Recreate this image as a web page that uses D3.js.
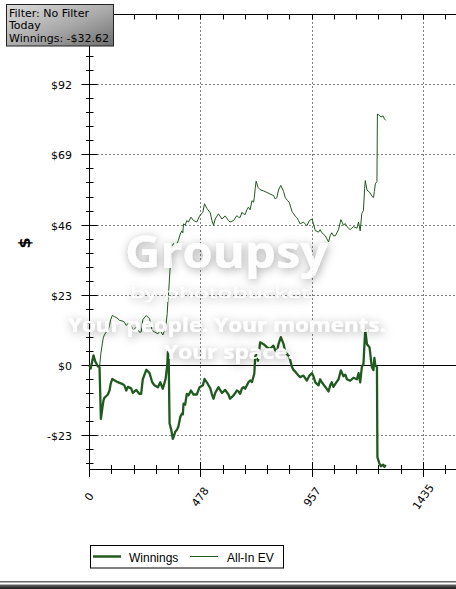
<!DOCTYPE html>
<html><head><meta charset="utf-8">
<script src="https://cdn.jsdelivr.net/npm/d3@7/dist/d3.min.js"></script>
<style>
html,body{margin:0;padding:0;background:#fff;overflow:hidden;}
svg{display:block;}
</style></head><body>
<svg id="c" width="456" height="589"></svg>
<script>
// ---------------- data ----------------
const hands = [0,5,12,17,24,36,43,49,55,58,60,64,72,79,86,91,98,107,118,129,140,150,158,165,179,186,201,215,222,229,244,258,269,279,294,304,315,327,334,337,340,344,351,358,361,368,376,382,390,397,401,404,411,418,425,436,447,461,473,487,494,504,519,526,533,540,554,569,583,597,604,619,633,640,647,655,662,669,676,683,690,698,705,708,712,716,724,733,748,762,776,790,798,805,812,822,834,841,851,858,870,877,884,891,898,905,919,934,945,956,962,970,984,991,998,1013,1027,1034,1041,1048,1056,1070,1080,1091,1099,1106,1120,1134,1149,1156,1163,1170,1177,1182,1185,1192,1203,1213,1220,1224,1228,1235,1237,1245,1252,1261,1267,1273];
const winnings = [0,-1,1.5,3.3,1.5,-0.3,-0.5,-17.5,-14,-12.5,-11.5,-10.6,-10,-9.5,-8.2,-6,-4.4,-4.8,-5.3,-5.7,-6,-6.5,-8.2,-7,-7.5,-9,-8,-9.3,-9.3,-4.5,-1.4,-2.5,-5.4,-6.5,-7.1,-5.5,-7.6,-4.4,0,4.5,3,-19,-21,-24,-23.5,-21.8,-21,-20,-16.9,-15.8,-16,-12.5,-12.8,-9.3,-9.8,-8.2,-9.5,-9.5,-7.1,-6.5,-4.4,-5.5,-7.5,-9.5,-10.9,-9,-7.1,-9,-8,-9.5,-10.9,-9.8,-8.2,-8.5,-9.3,-7.5,-7.1,-7.6,-6.5,-5.5,-4.9,-5.4,-3.5,-2.7,2.7,3.8,1.6,7.6,7,6,5.5,6.5,5,4.4,7,9.3,7,4.4,3.5,3,-0.5,-1.5,-2,-2.7,-3.3,-3.8,-3.3,-4.9,-3.3,-2.5,-3.5,-5.5,-6.5,-4.5,-5.5,-7,-8.5,-6.5,-5.5,-7,-6,-4.5,-1.6,-3.5,-3,-4.5,-5,-4,-4.5,-2.5,-5.5,-0.5,0.5,8,11.5,7,6,-0.5,-1.5,2.5,0,-0.5,-30,-32,-33,-32.5,-33.2,-32.62];
const allInEV = [0,-1,1.5,3.3,1.5,-0.3,-0.5,4,7.1,8.5,9.3,10,11,11.5,13.1,15,16.4,16,15.6,14.8,14.6,14.2,13.1,13.8,13.2,11.5,12.5,10.9,11,15,16.4,15.3,11.5,11,10.4,11.5,10,12.5,17,21.5,24,29,37.7,39.5,40,38.5,40,41,43.1,44.1,43.5,46.4,46,47.5,47,48.6,47.5,47,49,50.2,53,51.5,50,47.5,45.9,48,49.7,48,49,47.5,47,47.5,49.1,48.6,48.5,50.2,49.6,49.5,51,51.9,51,54,53.5,55,58,60.4,58.4,57.6,57.2,56.7,56.2,55.7,54.6,55,57.5,59,57,55,54,53.5,50.5,49.7,48.9,48.4,47.5,46.4,47,45.8,47.5,48,46.5,44.2,43.7,44.5,43.5,42.5,40.5,42.5,43.5,42.5,42.5,44.5,47.8,46,46.5,45.5,44.5,45.5,45,47,44.1,49.8,50.8,58,60.6,57.5,56.8,55.5,55,57,59.5,60.3,82.4,82,81.4,81.8,80.8,80.3];
const seriesNames = ["Winnings", "All-In EV"];
const xTickValues = [0, 478.33, 956.67, 1435];
const xTickLabels = ["0", "478", "957", "1435"];
const yTickValues = [-23, 0, 23, 46, 69, 92];
const yTickLabels = ["-$23", "$0", "$23", "$46", "$69", "$92"];
const yTitle = "$";
const infoLines = ["Filter: No Filter", "Today", "Winnings: -$32.62"];
const watermark = ["Groupsy", "by photobucket", "Your people. Your moments.", "Your space."];

// ---------------- drawing ----------------
const svg = d3.select("#c");
const W = 456, H = 589;
const x = d3.scaleLinear().domain([0, 1578.5]).range([89.5, 456.9]);
const y = d3.scaleLinear().domain([-34.07, 115]).range([469.5, 14.5]);
const cr = v => Math.round(v - 0.5) + 0.5;
const X0 = x(0), XR = W, YT = y(115), YB = y.range()[0];
const green = "#1f5a1f";

const defs = svg.append("defs");
const g1 = defs.append("linearGradient").attr("id","boxg").attr("x1",0).attr("y1",0).attr("x2",1).attr("y2",1);
g1.append("stop").attr("offset","0%").attr("stop-color","#dcdcdc");
g1.append("stop").attr("offset","55%").attr("stop-color","#a8a8a8");
g1.append("stop").attr("offset","100%").attr("stop-color","#6e6e6e");
const g2 = defs.append("linearGradient").attr("id","frameg").attr("x1",0).attr("y1",0).attr("x2",0).attr("y2",1);
g2.append("stop").attr("offset","0%").attr("stop-color","#6a6a6a");
g2.append("stop").attr("offset","100%").attr("stop-color","#1a1a1a");
const f = defs.append("filter").attr("id","wm").attr("x","-20%").attr("y","-50%").attr("width","140%").attr("height","200%");
f.append("feGaussianBlur").attr("in","SourceAlpha").attr("stdDeviation",5).attr("result","b");
f.append("feOffset").attr("in","b").attr("dx",1).attr("dy",2).attr("result","o");
f.append("feFlood").attr("flood-color","#000").attr("flood-opacity",0.38).attr("result","fl");
f.append("feComposite").attr("in","fl").attr("in2","o").attr("operator","in").attr("result","s");
const fm = f.append("feMerge");
fm.append("feMergeNode").attr("in","s");
fm.append("feMergeNode").attr("in","SourceGraphic");

svg.append("rect").attr("width",W).attr("height",H).attr("fill","#fff");

// grid
const grid = svg.append("g").attr("stroke","#000").attr("stroke-width",1).attr("stroke-dasharray","1,3");
yTickValues.filter(v => v !== 0).forEach(v => {
  grid.append("line").attr("x1",X0).attr("x2",XR).attr("y1",cr(y(v))).attr("y2",cr(y(v)));
});
xTickValues.filter(v => v !== 0).forEach(v => {
  grid.append("line").attr("y1",YT).attr("y2",YB).attr("x1",cr(x(v))).attr("x2",cr(x(v)));
});

// frame / axes lines
const ax = svg.append("g").attr("stroke","#000").attr("stroke-width",1).attr("fill","none");
ax.append("line").attr("x1",X0).attr("x2",XR).attr("y1",cr(y(0))).attr("y2",cr(y(0)));
ax.append("line").attr("x1",X0).attr("x2",XR).attr("y1",YT).attr("y2",YT);
ax.append("line").attr("x1",X0).attr("x2",XR).attr("y1",YB).attr("y2",YB);
ax.append("line").attr("x1",X0).attr("x2",X0).attr("y1",YT).attr("y2",477);

// y ticks (major every 23, minor every 4.6)
d3.range(-7, 26).forEach(i => {
  const py = cr(y(i * 4.6));
  const major = i % 5 === 0;
  if (major) ax.append("line").attr("x1",X0-8).attr("x2",X0+8).attr("y1",py).attr("y2",py);
  else ax.append("line").attr("x1",X0-3.5).attr("x2",X0+4).attr("y1",py).attr("y2",py);
});
// x ticks
const step = 1435 / 15;
d3.range(0, 17).forEach(i => {
  const px = cr(x(i * step));
  const major = i % 5 === 0;
  if (major) ax.append("line").attr("x1",px).attr("x2",px).attr("y1",462).attr("y2",477);
  else ax.append("line").attr("x1",px).attr("x2",px).attr("y1",465).attr("y2",474);
  ax.append("line").attr("x1",px).attr("x2",px).attr("y1",YT).attr("y2",YT+5);
});

// labels
svg.append("g").selectAll("text").data(yTickValues).join("text")
  .attr("x", 72).attr("y", v => y(v) + 1)
  .attr("text-anchor","end").attr("dominant-baseline","central")
  .attr("font-family","DejaVu Sans, Verdana, sans-serif").attr("font-size",11).attr("fill","#000")
  .text((v,i) => yTickLabels[i]);
svg.append("g").selectAll("text").data(xTickValues).join("text")
  .attr("transform", v => `translate(${cr(x(v))},497) rotate(-55)`)
  .attr("text-anchor","middle").attr("dominant-baseline","central")
  .attr("font-family","DejaVu Sans, Verdana, sans-serif").attr("font-size",11).attr("fill","#000")
  .text((v,i) => xTickLabels[i]);
svg.append("text").attr("transform","translate(24,243) rotate(-90)")
  .attr("text-anchor","middle").attr("dominant-baseline","central")
  .attr("font-family","DejaVu Sans, sans-serif").attr("font-weight","bold").attr("font-size",16)
  .text(yTitle);

// series
const pts = hands.map((h, i) => ({h, w: winnings[i], e: allInEV[i]}));
const lineW = d3.line().x(d => x(d.h)).y(d => y(d.w));
const lineE = d3.line().x(d => x(d.h)).y(d => y(d.e));
svg.append("path").datum(pts).attr("d", lineE).attr("fill","none").attr("stroke",green).attr("stroke-width",1);
svg.append("path").datum(pts).attr("d", lineW).attr("fill","none").attr("stroke",green).attr("stroke-width",2.3).attr("stroke-linejoin","round");

// watermark
const wm = svg.append("g").attr("filter","url(#wm)").attr("fill","#fff").attr("fill-opacity",0.92)
  .attr("font-family","Open Sans, Lato, sans-serif").attr("font-weight","bold").attr("text-anchor","start");
wm.append("text").attr("x",125).attr("y",268).attr("font-size",44).attr("textLength",203).attr("lengthAdjust","spacingAndGlyphs").text(watermark[0]);
wm.append("text").attr("x",130).attr("y",298).attr("font-size",15).attr("font-weight","normal").attr("textLength",180).attr("lengthAdjust","spacingAndGlyphs").text(watermark[1]);
wm.append("text").attr("x",68).attr("y",332).attr("font-size",19).attr("textLength",318).attr("lengthAdjust","spacingAndGlyphs").text(watermark[2]);
wm.append("text").attr("x",164).attr("y",359).attr("font-size",19).attr("textLength",130).attr("lengthAdjust","spacingAndGlyphs").text(watermark[3]);

// info box
svg.append("rect").attr("x",6.5).attr("y",4.5).attr("width",107).attr("height",41.5)
  .attr("fill","url(#boxg)").attr("stroke","#222").attr("stroke-width",1);
svg.append("g").selectAll("text").data(infoLines).join("text")
  .attr("x",9).attr("y",(d,i) => 16.5 + i * 12.5)
  .attr("font-family","DejaVu Sans, Verdana, sans-serif").attr("font-size",11).attr("fill","#000")
  .text(d => d);

// legend
const lg = svg.append("g");
lg.append("rect").attr("x",90.5).attr("y",545.5).attr("width",193).attr("height",22.5)
  .attr("fill","#fff").attr("stroke","#000").attr("stroke-width",1);
const lgItems = [{x1:93, x2:121, tx:129, sw:2.5}, {x1:190, x2:218, tx:227, sw:1}];
lgItems.forEach((it, i) => {
  lg.append("line").attr("x1",it.x1).attr("x2",it.x2).attr("y1",556.5).attr("y2",556.5).attr("stroke",green).attr("stroke-width",it.sw);
  lg.append("text").attr("x",it.tx).attr("y",561.5)
    .attr("font-family","Liberation Sans, Arial, sans-serif").attr("font-size",12).attr("fill","#000")
    .text(seriesNames[i]);
});

// bottom window frame
svg.append("rect").attr("x",0).attr("y",581).attr("width",W).attr("height",1.5).attr("fill","#6a6a6a");
svg.append("rect").attr("x",0).attr("y",584.5).attr("width",W).attr("height",4.5).attr("fill","url(#frameg)");
</script>
</body></html>
